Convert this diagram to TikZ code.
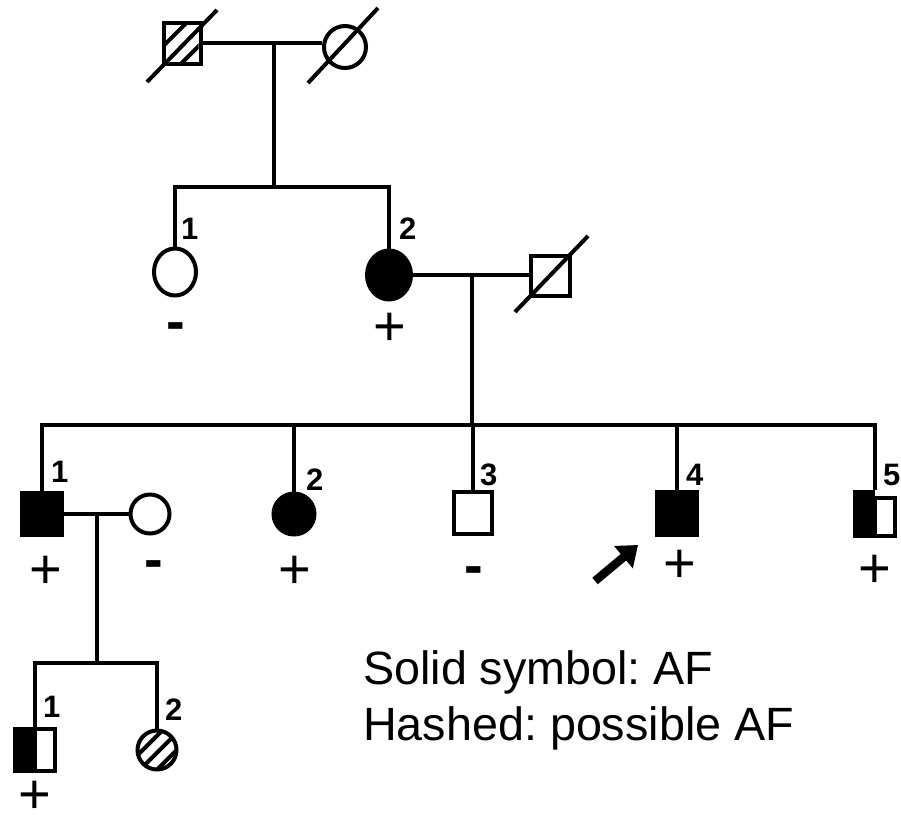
\documentclass[tikz,border=0pt]{standalone}
\usepackage{fontspec}
\setmainfont{Liberation Sans}
\usetikzlibrary{shapes.geometric,arrows.meta}
\frenchspacing
\begin{document}
\begin{tikzpicture}[x=1pt,y=-1pt,
  conn/.style={line width=4pt, line join=miter},
  sym/.style={draw, line width=4pt, inner sep=0pt, fill=white},
  sqbox/.style={sym, rectangle},
  circbox/.style={sym, circle},
  ellbox/.style={sym, ellipse},
  affected/.style={fill=black},
  ghost/.style={rectangle, inner sep=0pt},
  hatch/.style={line width=4pt},
  slash/.style={line width=4pt},
  num/.style={font=\bfseries\fontsize{31}{31}\selectfont, anchor=base west, inner sep=0pt},
  pl/.style={font=\fontsize{56}{56}\selectfont, anchor=base, inner sep=0pt},
  mn/.style={font=\bfseries\fontsize{56}{56}\selectfont, anchor=base, inner sep=0pt},
  legend/.style={font=\fontsize{46.7}{56}\selectfont, anchor=base west, inner sep=0pt}
]
\useasboundingbox (0,0) rectangle (901,814);

% ---------- Generation I ----------
\node[sqbox, minimum width=37pt, minimum height=41pt] (I1) at (182,43) {};
\node[circbox, minimum size=42pt] (I2) at (345,47) {};
\begin{scope}[shift={(I1.center)}]
  \clip (-16.5,-18.5) rectangle (16.5,18.5);
  \draw[hatch] (20.2,-35.8) -- (-35.8,20.2);
  \draw[hatch] (37.9,-18.1) -- (-18.1,37.9);
\end{scope}
\draw[slash] ([shift={(-35,39)}]I1.center) -- ([shift={(35,-33)}]I1.center);
\draw[slash] ([shift={(-37,36)}]I2.center) -- ([shift={(33,-39)}]I2.center);

\coordinate (m1) at (274,43);
\coordinate (s1) at (274,187);
\draw[conn] (I1.east) -- (I1.east -| I2.west);
\draw[conn] (m1) -- (s1);

% ---------- Generation II ----------
\node[ellbox, minimum width=42pt, minimum height=47pt] (II1) at (175,272) {};
\node[ellbox, affected, minimum width=44pt, minimum height=49pt] (II2) at (389,275) {};
\node[sqbox, minimum width=39pt, minimum height=40pt] (II3) at (550,276) {};
\draw[slash] ([shift={(-35,36)}]II3.center) -- ([shift={(38,-40)}]II3.center);

\draw[conn] (II1.north) -- (II1.north |- s1) -- (II2.north |- s1) -- (II2.north);
\draw[conn] (II2.east) -- (II2.east -| II3.west);
\coordinate (m2) at (472,275);
\coordinate (s2) at (472,425);
\draw[conn] (m2) -- (s2);

\node[num] (nII1) at (181,239) {1};
\node[num] (nII2) at (399,239) {2};
\node[mn] (gII1) at (176,340) {-};
\node[pl] (gII2) at (390,345) {+};

% ---------- Generation III ----------
\node[sqbox, affected, minimum width=40pt, minimum height=42pt] (III1) at (42,514) {};
\node[circbox, minimum size=39pt] (IIIw) at (150,514) {};
\node[circbox, affected, minimum size=41pt] (III2) at (294,514) {};
\node[sqbox, minimum width=38pt, minimum height=42pt] (III3) at (473,513) {};
\node[sqbox, affected, minimum width=40pt, minimum height=43pt] (III4) at (677,513) {};
\node[ghost, minimum width=44pt, minimum height=48pt] (III5) at (875,514) {};
\fill (III5.north west) rectangle (III5.south);
\draw[line width=4pt] ([yshift=-8pt]III5.north) rectangle ([xshift=-2pt,yshift=2pt]III5.south east);

\draw[conn] (III1.north) -- (III1.north |- s2) -- (III5.north |- s2) -- (III5.north);
\draw[conn] (III2.north |- s2) -- (III2.north);
\draw[conn] (III3.north |- s2) -- (III3.north);
\draw[conn] (III4.north |- s2) -- (III4.north);
\draw[conn] (III1.east) -- (III1.east -| IIIw.west);
\coordinate (m3) at (97,514);
\coordinate (s3) at (97,663);
\draw[conn] (m3) -- (s3);

\node[num] (nIII1) at (51,482) {1};
\node[num] (nIII2) at (306,490) {2};
\node[num] (nIII3) at (480,485) {3};
\node[num] (nIII4) at (686,485) {4};
\node[num] (nIII5) at (883,485) {5};
\node[pl] (gIII1) at (46,588) {+};
\node[mn] (gIIIw) at (154,578) {-};
\node[pl] (gIII2) at (295,588) {+};
\node[mn] (gIII3) at (474,584) {-};
\node[pl] (gIII4) at (680,582) {+};
\node[pl] (gIII5) at (875,587) {+};

\coordinate (atail) at (595,581);
\coordinate (ahead) at (638,545);
\draw[line width=8.5pt, -{Triangle[length=19pt,width=28pt]}] (atail) -- (ahead);

% ---------- Generation IV ----------
\node[ghost, minimum width=44pt, minimum height=46pt] (IV1) at (35,750) {};
\fill (IV1.north west) rectangle (IV1.south);
\draw[line width=4pt] ([yshift=-2pt]IV1.north) rectangle ([xshift=-2pt,yshift=2pt]IV1.south east);
\node[circbox, minimum size=39pt] (IV2) at (157,750) {};
\begin{scope}[shift={(IV2.center)}]
  \clip (0,0) circle (19.5);
  \draw[hatch] (14.1,-28.3) -- (-28.3,14.1);
  \draw[hatch] (22.6,-19.8) -- (-19.8,22.6);
  \draw[hatch] (31.1,-11.3) -- (-11.3,31.1);
\end{scope}

\draw[conn] (IV1.north) -- (IV1.north |- s3) -- (IV2.north |- s3) -- (IV2.north);

\node[num] (nIV1) at (43,717) {1};
\node[num] (nIV2) at (165,720) {2};
\node[pl, text depth=0pt] (gIV1) at (35,813) {+};

% ---------- Legend ----------
\node[legend] (leg1) at (363,684) {Solid symbol: AF};
\node[legend] (leg2) at (363,740) {Hashed: possible AF};
\end{tikzpicture}
\end{document}
